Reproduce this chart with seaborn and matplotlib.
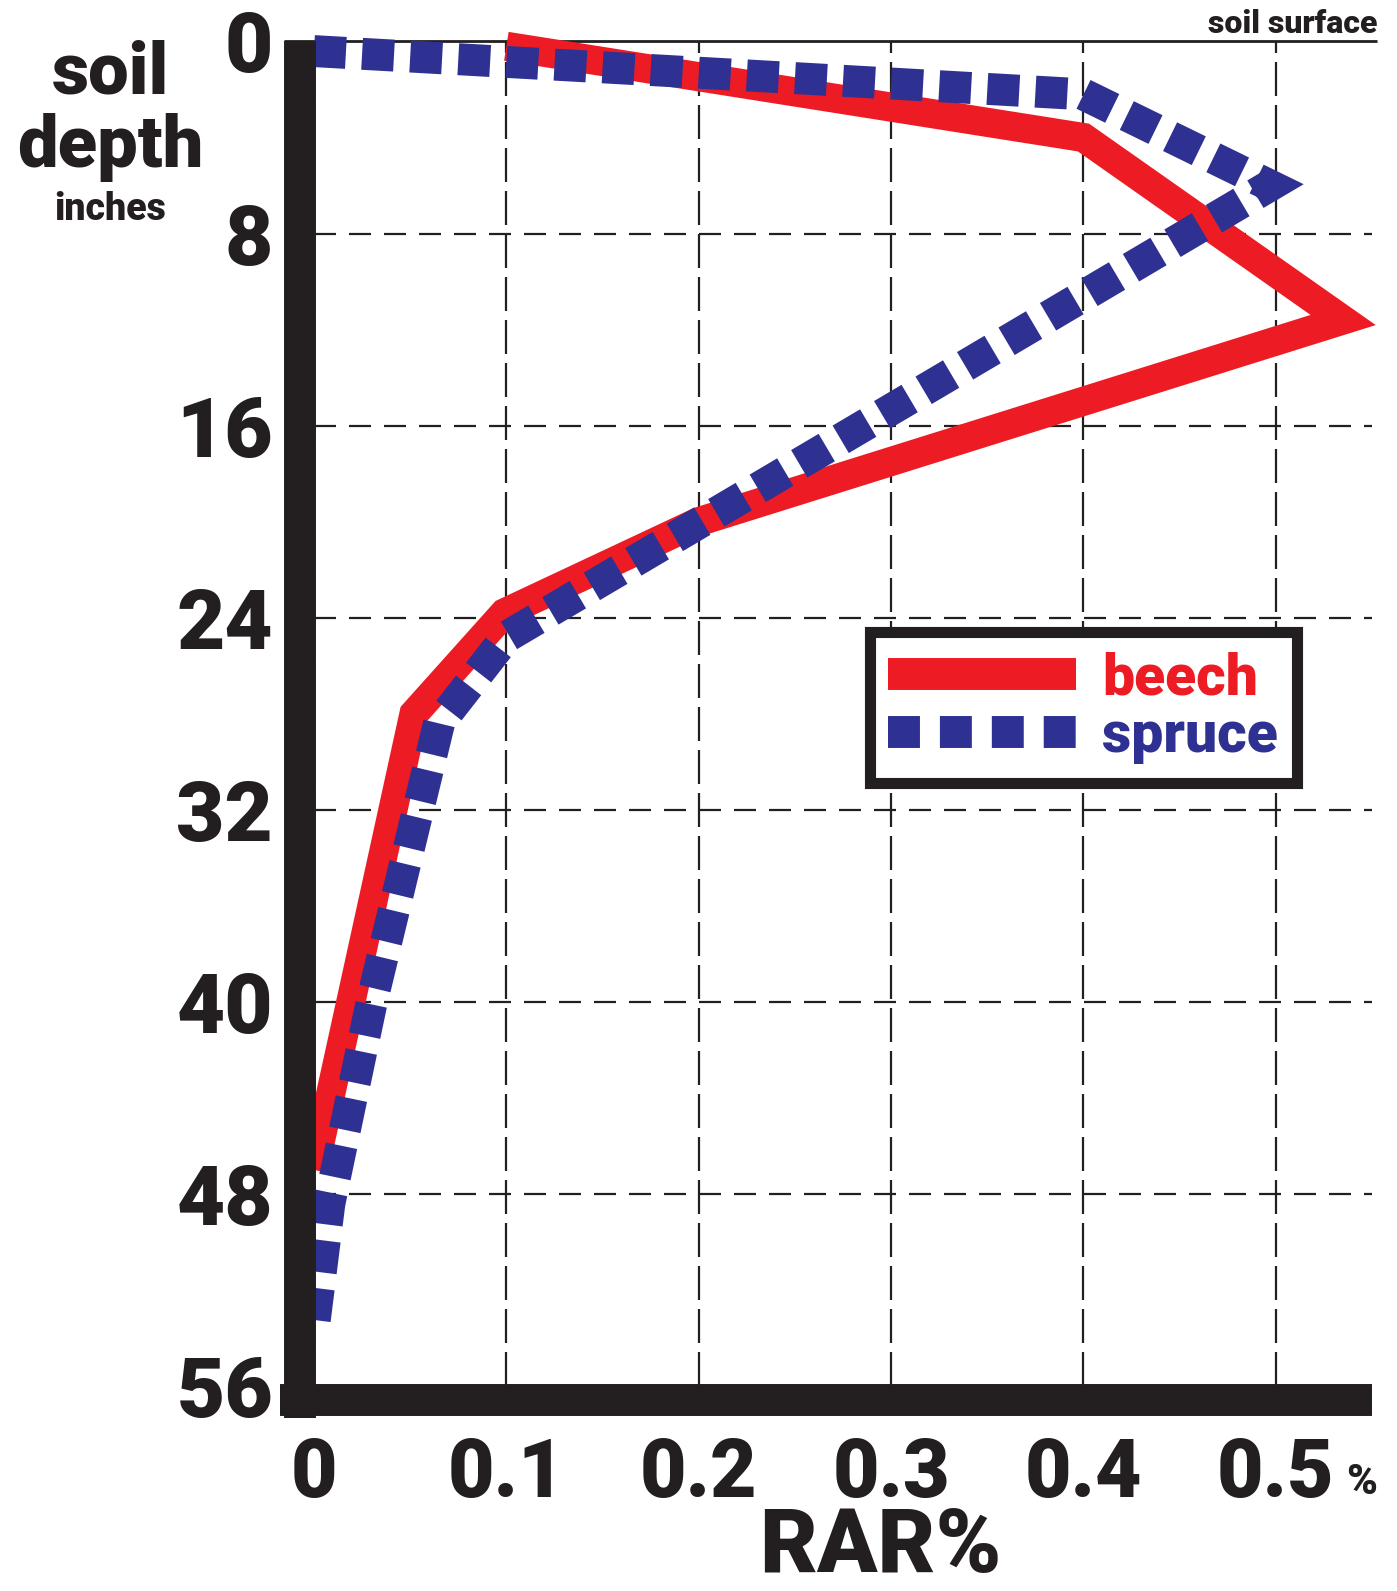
import matplotlib
matplotlib.use("Agg")
import matplotlib.pyplot as plt
import seaborn as sns
import pandas as pd
from matplotlib import font_manager as fm
from matplotlib.lines import Line2D

# values (RAR % against soil depth in inches)
beech_rar = [0.10, 0.40, 0.535, 0.20, 0.099, 0.052, 0.0]
beech_depth = [0.2, 4.0, 11.6, 20.0, 23.8, 28.0, 47.0]
spruce_rar = [0.0, 0.40, 0.497, 0.10, 0.065, 0.03, 0.008, 0.0]
spruce_depth = [0.4, 2.2, 6.0, 24.8, 28.4, 40.0, 48.4, 53.5]

rar_ticks = [0, 0.1, 0.2, 0.3, 0.4, 0.5]
rar_labels = ["0", "0.1", "0.2", "0.3", "0.4", "0.5"]
depth_ticks = [0, 8, 16, 24, 32, 40, 48, 56]
depth_labels = ["0", "8", "16", "24", "32", "40", "48", "56"]
series_names = ["beech", "spruce"]

RED = "#ED1C24"
BLUE = "#2E3192"
BLACK = "#231F20"


def heavy_font():
    for fam in ["Roboto", "Lato", "Open Sans", "Inter", "Noto Sans", "Liberation Sans", "DejaVu Sans"]:
        cands = [f for f in fm.fontManager.ttflist if f.name == fam and f.style == "normal"
                 and f.stretch in ("normal", 500)]
        if cands:
            best = max(cands, key=lambda f: f.weight if isinstance(f.weight, int) else 400)
            return best.fname
    return None


FONT = heavy_font()


def fp(size):
    return fm.FontProperties(fname=FONT, size=size)


sns.set_style("white")

W, H = 1397, 1591
fig = plt.figure(figsize=(W / 100, H / 100), dpi=100)
ax = fig.add_axes([314 / W, 1 - 1386 / H, 1058 / W, 1344.5 / H])

beech = pd.DataFrame({"rar": beech_rar, "depth": beech_depth})
spruce = pd.DataFrame({"rar": spruce_rar, "depth": spruce_depth})

sns.lineplot(data=beech, x="rar", y="depth", sort=False, estimator=None, ax=ax,
             color=RED, linewidth=21, solid_joinstyle="miter", solid_capstyle="butt",
             clip_on=False, zorder=3)
sns.lineplot(data=spruce, x="rar", y="depth", sort=False, estimator=None, ax=ax,
             color=BLUE, linewidth=23, linestyle=(0, (1, 0.508)),
             dash_capstyle="butt", dash_joinstyle="miter", clip_on=False, zorder=3.2)

# heavy axis bars and the soil surface line
ax.plot([-0.01323, -0.01323], [1.0, -0.0238], transform=ax.transAxes, color=BLACK,
        linewidth=23, solid_capstyle="butt", clip_on=False, zorder=4)
ax.plot([-0.0321, 1.0], [-0.01041, -0.01041], transform=ax.transAxes, color=BLACK,
        linewidth=23, solid_capstyle="butt", clip_on=False, zorder=4)
ax.plot([-0.028, 1.005], [1.0, 1.0], transform=ax.transAxes, color=BLACK,
        linewidth=2, solid_capstyle="butt", clip_on=False, zorder=2.5)

ax.set_xlim(0, 0.55)
ax.set_ylim(56, 0)
for s in ax.spines.values():
    s.set_visible(False)

ax.set_xticks(rar_ticks)
ax.set_xticklabels(rar_labels, fontproperties=fp(58), color=BLACK)
ax.set_yticks(depth_ticks)
ax.set_yticklabels(depth_labels, fontproperties=fp(60), color=BLACK)
ax.tick_params(axis="both", length=0)
ax.tick_params(axis="x", pad=36)
ax.tick_params(axis="y", pad=29.5)
ax.set_axisbelow(True)
ax.xaxis.grid(True, color=BLACK, linewidth=1.6, linestyle=(0, (15.3, 4.05)))
ax.yaxis.grid(True, color=BLACK, linewidth=1.6, linestyle=(0, (9.9, 5.85)))
ax.set_xlabel("")
ax.set_ylabel("")

# legend
handles = [
    Line2D([], [], color=RED, linewidth=23, solid_capstyle="butt"),
    Line2D([], [], color=BLUE, linewidth=23, linestyle=(0, (1, 0.625)), dash_capstyle="butt"),
]
leg = ax.legend(handles, series_names, loc="upper left",
                bbox_to_anchor=(869.5 / W, 1 - 632.5 / H), bbox_transform=fig.transFigure,
                borderaxespad=0, prop=fp(41), handlelength=3.3, handletextpad=0.46,
                labelspacing=0.05, borderpad=0.33, frameon=True, fancybox=False,
                edgecolor=BLACK, facecolor="white", framealpha=1, labelcolor="linecolor")
leg.get_frame().set_linewidth(8)

# texts
fig.text(110 / W, 1 - 93 / H, "soil", ha="center", va="baseline", fontproperties=fp(52), color=BLACK)
fig.text(110 / W, 1 - 167 / H, "depth", ha="center", va="baseline", fontproperties=fp(52), color=BLACK)
fig.text(110 / W, 1 - 220 / H, "inches", ha="center", va="baseline", fontproperties=fp(27), color=BLACK)
fig.text(1377 / W, 1 - 33 / H, "soil surface", ha="right", va="baseline", fontproperties=fp(23), color=BLACK)
fig.text(1346 / W, 1 - 1494 / H, "%", ha="left", va="baseline", fontproperties=fp(30), color=BLACK)
fig.text(880 / W, 1 - 1572 / H, "RAR%", ha="center", va="baseline", fontproperties=fp(64), color=BLACK)

fig.savefig("out.png", dpi=100)
